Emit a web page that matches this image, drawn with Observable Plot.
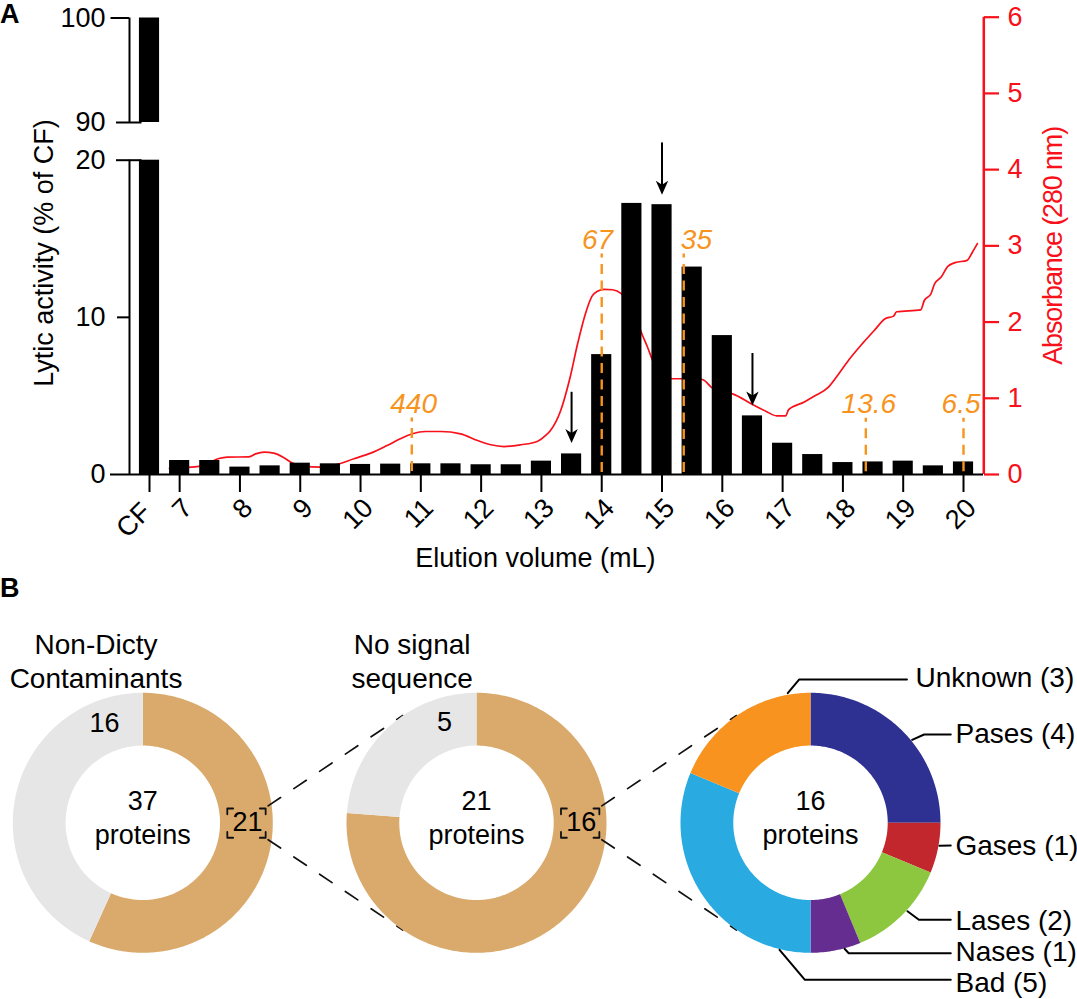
<!DOCTYPE html>
<html>
<head>
<meta charset="utf-8">
<script src="https://cdn.jsdelivr.net/npm/d3@7"></script>
<script src="https://cdn.jsdelivr.net/npm/@observablehq/plot@0.6"></script>
<style>
  html, body { margin: 0; padding: 0; background: #fff; overflow: hidden; }
  #chart { position: relative; width: 1077px; height: 999px; font-family: "Liberation Sans", Arial, sans-serif; }
  .panel { position: absolute; left: 0; font-weight: bold; font-size: 27px; line-height: 1; }
  .abs-title text { letter-spacing: -1.15px; }
</style>
</head>
<body>
<div id="chart">
  <div class="panel" style="top:1px">A</div>
  <div class="panel" style="top:575px">B</div>
</div>
<script>
// Panel A: lytic activity per fraction (CF sits at 6.5 on the volume axis)
const barVolume = [6.5, 7, 7.5, 8, 8.5, 9, 9.5, 10, 10.5, 11, 11.5, 12, 12.5, 13, 13.5, 14, 14.5, 15, 15.5, 16, 16.5, 17, 17.5, 18, 18.5, 19, 19.5, 20];
const barActivity = [100, 0.89, 0.89, 0.47, 0.55, 0.72, 0.68, 0.64, 0.66, 0.68, 0.68, 0.62, 0.62, 0.85, 1.31, 7.63, 17.25, 17.17, 13.2, 8.84, 3.73, 1.99, 1.27, 0.76, 0.8, 0.85, 0.55, 0.8];
const xTicks = [6.5, 7, 8, 9, 10, 11, 12, 13, 14, 15, 16, 17, 18, 19, 20];
const xTickLabels = ["CF", "7", "8", "9", "10", "11", "12", "13", "14", "15", "16", "17", "18", "19", "20"];

// Absorbance trace
const absVolume = [6.83, 7.35, 7.65, 7.79, 8.15, 8.26, 8.4, 8.56, 8.73, 8.87, 9.05, 9.34, 9.56, 9.89, 10.17, 10.44, 10.66, 10.86, 11.08, 11.33, 11.66, 11.94, 12.16, 12.38, 12.66, 12.93, 13.07, 13.15, 13.32, 13.47, 13.6, 13.73, 13.84, 13.93, 14.04, 14.18, 14.33, 14.5, 14.67, 14.76, 14.84, 15.0, 15.17, 15.36, 15.5, 15.68, 15.83, 16.0, 16.17, 16.51, 16.73, 16.9, 17.05, 17.1, 17.36, 17.53, 17.76, 17.93, 18.1, 18.33, 18.52, 18.7, 18.84, 18.89, 19.29, 19.35, 19.46, 19.52, 19.63, 19.74, 19.86, 20.06, 20.15, 20.23];
const absValue = [0.08, 0.11, 0.21, 0.227, 0.232, 0.27, 0.293, 0.28, 0.22, 0.15, 0.11, 0.096, 0.122, 0.206, 0.28, 0.38, 0.468, 0.534, 0.564, 0.564, 0.534, 0.446, 0.39, 0.367, 0.39, 0.433, 0.512, 0.577, 0.84, 1.256, 1.715, 2.11, 2.34, 2.405, 2.428, 2.424, 2.37, 2.2, 1.837, 1.67, 1.505, 1.3, 1.256, 1.256, 1.26, 1.243, 1.137, 1.09, 1.058, 0.914, 0.827, 0.77, 0.77, 0.85, 0.95, 1.03, 1.146, 1.32, 1.505, 1.723, 1.89, 2.043, 2.078, 2.135, 2.161, 2.283, 2.37, 2.5, 2.59, 2.73, 2.78, 2.81, 2.92, 3.03];

// Size markers
const markerVolume = [10.85, 14, 15.36, 18.38, 20];
const markerTop = [3.6, 14.03, 14.03, 3.58, 3.58];
const markerText = ["440", "67", "35", "13.6", "6.5"];
const markerTextVolume = [10.88, 13.93, 15.57, 18.43, 19.96];
const markerTextLevel = [4.51, 14.94, 14.94, 4.51, 4.51];

// Arrows over the picked fractions
const arrowVolume = [13.5, 15, 16.5];
const arrowTop = [5.23, 21.1, 7.7];
const arrowTip = [2.0, 17.8, 4.39];

// Panel B
const firstNames = ["Contaminants", "Non-Dicty"];
const firstValues = [21, 16];
const secondNames = ["Signal", "No signal"];
const secondValues = [16, 5];
const classNames = ["Pases", "Gases", "Lases", "Nases", "Bad", "Unknown"];
const classValues = [4, 1, 2, 1, 5, 3];
const classColors = ["#2E3192", "#C1272D", "#8DC63F", "#662D91", "#29ABE2", "#F7931E"];
const leaderX = [[0.782, 0.874, 1.079], [0.992, 1.079], [0.746, 0.834, 1.079], [0.262, 0.294, 1.079], [-0.238, -0.043, 1.079], [-0.175, -0.088, 0.742]];
const leaderY = [[0.638, 0.679, 0.679], [-0.177, -0.175], [-0.68, -0.746, -0.746], [-0.969, -1.003, -1.003], [-0.977, -1.208, -1.208], [0.997, 1.102, 1.102]];
const classLabelX = [1.115, 1.115, 1.115, 1.115, 1.115, 0.808];
const classLabelY = [0.679, -0.175, -0.757, -0.995, -1.236, 1.11];

const TAN = "#DAAA6C", GREY = "#E6E6E6", RED = "#F8101A", ORANGE = "#F7941D";
const W = 1077, H = 999;
const baseStyle = {position: "absolute", left: 0, top: 0, background: "transparent", overflow: "visible", fontFamily: "'Liberation Sans', Arial, sans-serif", fontSize: "27px", color: "#000"};
const chart = document.getElementById("chart");

const xScale = {domain: [6.5, 20], range: [149, 963], axis: null};
const bars = barVolume.map((v, i) => ({v, a: barActivity[i]}));

// absorbance goes at the bottom so the bars cover the trace
chart.appendChild(Plot.plot({
  width: W, height: H, style: baseStyle,
  marginLeft: 129, marginRight: 94, marginTop: 0, marginBottom: 525,
  x: xScale,
  y: {domain: [0, 6], range: [474, 16.7], axis: null},
  marks: [
    Plot.line(absVolume.map((v, i) => ({v, a: absValue[i]})), {x: "v", y: "a", stroke: RED, strokeWidth: 1.7, curve: "monotone-x"}),
    Plot.ruleX([20], {y1: 0, y2: 6, dx: 20.3, stroke: RED, strokeWidth: 2.5}),
    Plot.axisY({anchor: "right", ticks: [0, 1, 2, 3, 4, 5, 6], tickSize: 15, tickPadding: 9, label: null, color: RED, strokeWidth: 2.2, tickFormat: d => d}),
    Plot.text(["Absorbance (280 nm)"], {x: () => 20, y: () => 3, dx: 90, rotate: -90, fill: RED, fontSize: 27, className: "abs-title"})
  ]
}));

// lower part of the broken activity axis
chart.appendChild(Plot.plot({
  width: W, height: H, style: baseStyle,
  marginLeft: 129, marginRight: 94, marginTop: 0, marginBottom: 525,
  x: xScale,
  y: {domain: [0, 20], range: [474, 159.7], axis: null},
  marks: [
    Plot.rectY(bars, {x1: d => d.v - 0.25, x2: d => d.v + 0.25, y1: 0, y2: d => Math.min(d.a, 20), insetLeft: 5, insetRight: 5, fill: "#000"}),
    Plot.ruleX([6.5], {y1: 0, y2: 20, dx: -20, strokeWidth: 2}),
    Plot.ruleY([0], {insetLeft: -19, strokeWidth: 2}),
    Plot.ruleY([10], {insetLeft: -12, insetRight: 854, strokeWidth: 2}),
    Plot.ruleY([20], {insetLeft: -13, insetRight: 841.5, strokeWidth: 2}),
    Plot.axisY({ticks: [0, 10, 20], tickSize: 0, tickPadding: 24, label: null}),
    Plot.axisX({ticks: xTicks, tickSize: 18, tickFormat: () => "", label: null, strokeWidth: 2}),
    Plot.text(xTickLabels.slice(1), {x: (d, i) => xTicks[i + 1], y: () => 0, dx: 8, dy: 29, rotate: -45, textAnchor: "end"}),
    Plot.text(xTickLabels.slice(0, 1), {x: () => xTicks[0], y: () => 0, dx: -3, dy: 33, rotate: -45, textAnchor: "end"}),
    Plot.text(["Elution volume (mL)"], {x: () => 12.9, y: () => 0, dy: 84}),
    Plot.text(["Lytic activity (% of CF)"], {x: () => 6.5, y: () => 14.1, dx: -105, rotate: -90, fontSize: 27}),
    // size markers
    Plot.ruleX(markerVolume, {y1: (d, i) => markerTop[i], y2: 0, stroke: ORANGE, strokeWidth: 2.4, strokeDasharray: "10,6.5", strokeDashoffset: 6}),
    Plot.text(markerText, {x: (d, i) => markerTextVolume[i], y: (d, i) => markerTextLevel[i], fill: ORANGE, fontStyle: "italic", fontSize: 28}),
    // arrows
    Plot.ruleX(arrowVolume, {y1: (d, i) => arrowTop[i], y2: (d, i) => arrowTip[i] + 0.4, strokeWidth: 2}),
    Plot.dot(arrowVolume, {
      x: d => d, y: (d, i) => arrowTip[i], fill: "#000", stroke: "none",
      symbol: {draw(ctx) { ctx.moveTo(0, 0); ctx.lineTo(-6.2, -14); ctx.lineTo(0, -10); ctx.lineTo(6.2, -14); ctx.closePath(); }}
    })
  ]
}));

// upper part of the broken axis
chart.appendChild(Plot.plot({
  width: W, height: H, style: baseStyle,
  marginLeft: 129, marginRight: 94, marginTop: 0, marginBottom: 525,
  x: xScale,
  y: {domain: [90, 100], range: [122, 17.5], axis: null},
  marks: [
    Plot.rectY(bars.filter(d => d.a > 90), {x1: d => d.v - 0.25, x2: d => d.v + 0.25, y1: 90, y2: d => d.a, insetLeft: 5, insetRight: 5, fill: "#000"}),
    Plot.ruleX([6.5], {y1: 90, y2: 100, dx: -20, strokeWidth: 2}),
    Plot.ruleY([100], {insetLeft: -18.5, insetRight: 854, strokeWidth: 2}),
    Plot.ruleY([90], {insetLeft: -13, insetRight: 841.5, strokeWidth: 2}),
    Plot.axisY({ticks: [90, 100], tickSize: 0, tickPadding: 24, label: null})
  ]
}));

// ring slices as closed polygons, clockwise from 12 o'clock
const INNER = 0.594;
function ringPoints(names, values) {
  const arcs = d3.pie().sort(null)(values);
  const pts = [];
  arcs.forEach((a, i) => {
    const n = Math.ceil((a.endAngle - a.startAngle) * 60);
    const at = k => a.startAngle + (a.endAngle - a.startAngle) * k / n;
    for (let k = 0; k <= n; k++) pts.push({name: names[i], x: Math.sin(at(k)), y: Math.cos(at(k))});
    for (let k = n; k >= 0; k--) pts.push({name: names[i], x: INNER * Math.sin(at(k)), y: INNER * Math.cos(at(k))});
  });
  return pts;
}

// bracket round the count that the next ring expands, and the dashed zoom lines
const bracketX = [0.65, 0.945], bracketY = [-0.115, 0.11], arm = 0.045;
const bracketCorners = [
  [[bracketX[0], bracketY[1] - arm], [bracketX[0], bracketY[1]], [bracketX[0] + arm, bracketY[1]]],
  [[bracketX[1] - arm, bracketY[1]], [bracketX[1], bracketY[1]], [bracketX[1], bracketY[1] - arm]],
  [[bracketX[0], bracketY[0] + arm], [bracketX[0], bracketY[0]], [bracketX[0] + arm, bracketY[0]]],
  [[bracketX[1] - arm, bracketY[0]], [bracketX[1], bracketY[0]], [bracketX[1], bracketY[0] + arm]]
];
const bracketPts = bracketCorners.flatMap((c, g) => c.map(p => ({g, x: p[0], y: p[1]})));
const zoomX = [0.964, 2.0], zoomY = [0.13, 0.825];
const zoomPts = [1, -1].flatMap(s => zoomX.map((x, i) => ({g: s, x, y: s * zoomY[i]})));

function ring(cx, names, values, colors, centre, extra) {
  const R = 130, cy = 822.3;
  chart.appendChild(Plot.plot({
    width: W, height: H, style: baseStyle, margin: 0,
    x: {domain: [-1, 1], range: [cx - R, cx + R], axis: null},
    y: {domain: [-1, 1], range: [cy + R, cy - R], axis: null},
    color: {domain: names, range: colors},
    marks: [
      Plot.line(ringPoints(names, values), {x: "x", y: "y", z: "name", fill: "name", stroke: "none", curve: "linear-closed"}),
      Plot.text([centre], {x: () => 0, y: () => 0.05, lineHeight: 1.26}),
      ...extra
    ]
  }));
}

const zoomMarks = (count) => [
  Plot.line(zoomPts, {x: "x", y: "y", z: "g", stroke: "#111", strokeWidth: 1.7, strokeDasharray: "15,16"}),
  Plot.line(bracketPts, {x: "x", y: "y", z: "g", stroke: "#111", strokeWidth: 1.8}),
  Plot.text([count], {x: () => 0.805, y: () => 0})
];

ring(142.3, firstNames, firstValues, [TAN, GREY], "37\nproteins", [
  ...zoomMarks("21"),
  Plot.text(["16"], {x: () => -0.295, y: () => 0.765}),
  Plot.text(["Non-Dicty\nContaminants"], {x: () => -0.36, y: () => 1.25, lineHeight: 1.22, fontSize: 28})
]);
ring(476, secondNames, secondValues, [TAN, GREY], "21\nproteins", [
  ...zoomMarks("16"),
  Plot.text(["5"], {x: () => -0.246, y: () => 0.775}),
  Plot.text(["No signal\nsequence"], {x: () => -0.495, y: () => 1.25, lineHeight: 1.22, fontSize: 28})
]);
const leaderPts = leaderX.flatMap((xs, g) => xs.map((x, i) => ({g, x, y: leaderY[g][i]})));
ring(810, classNames, classValues, classColors, "16\nproteins", [
  Plot.line(leaderPts, {x: "x", y: "y", z: "g", stroke: "#000", strokeWidth: 2}),
  Plot.text(classNames.map((n, i) => `${n} (${classValues[i]})`), {x: (d, i) => classLabelX[i], y: (d, i) => classLabelY[i], textAnchor: "start", fontSize: 28})
]);
</script>
</body>
</html>
